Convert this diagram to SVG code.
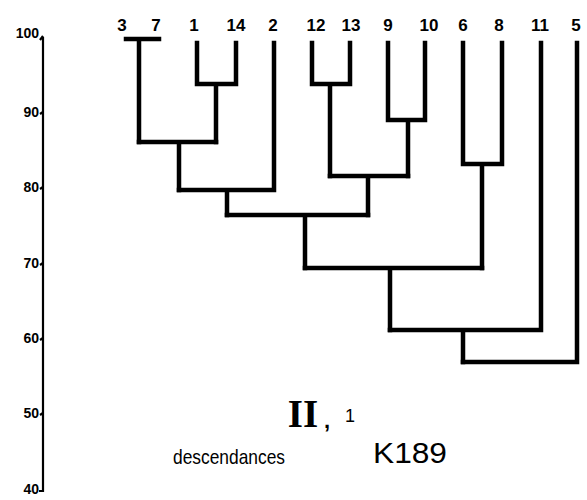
<svg xmlns="http://www.w3.org/2000/svg" width="587" height="500" viewBox="0 0 587 500">
<style>
.b{fill:none;stroke:#000;stroke-width:4.5;stroke-linecap:square;stroke-linejoin:miter}
.ax{fill:none;stroke:#000;stroke-width:2.2}
.lf{font-family:"Liberation Sans",Arial,sans-serif;font-size:17px;font-weight:bold;text-anchor:middle;fill:#000}
.tk{font-family:"Liberation Sans",Arial,sans-serif;font-size:14px;font-weight:bold;text-anchor:end;fill:#000}
.cap{font-family:"Liberation Sans",Arial,sans-serif;fill:#000}
.rom{font-family:"Liberation Serif","Times New Roman",serif;font-size:39px;font-weight:bold;fill:#000;text-anchor:middle}
</style>
<rect width="587" height="500" fill="#fff"/>
<g id="axis">
<path class="ax" d="M43,37 V491 H39"/>
<path class="ax" d="M40,40 L43,36 M40,114 L43,112 M40,189 L43,187 M40,265 L43,263 M40,340 L43,338 M40,415 L43,413"/>
<text class="tk" x="39" y="38">100</text>
<text class="tk" x="39" y="117">90</text>
<text class="tk" x="39" y="192">80</text>
<text class="tk" x="39" y="268">70</text>
<text class="tk" x="39" y="343">60</text>
<text class="tk" x="39" y="418">50</text>
<text class="tk" x="39" y="494">40</text>
</g>
<g id="leaf-labels">
<text class="lf" x="122" y="31">3</text>
<text class="lf" x="156" y="31">7</text>
<text class="lf" x="194" y="31">1</text>
<text class="lf" x="236" y="31">14</text>
<text class="lf" x="273" y="31">2</text>
<text class="lf" x="316" y="31">12</text>
<text class="lf" x="351" y="31">13</text>
<text class="lf" x="388" y="31">9</text>
<text class="lf" x="429" y="31">10</text>
<text class="lf" x="463" y="31">6</text>
<text class="lf" x="499" y="31">8</text>
<text class="lf" x="540" y="31">11</text>
<text class="lf" x="576" y="31">5</text>
</g>
<g id="connectors">
<path class="b" d="M126,39 H159 M139,39 V142"/>
<path class="b" d="M197,43 V84 H236 V43 M216,84 V142"/>
<path class="b" d="M139,142 H216 M179,142 V190"/>
<path class="b" d="M179,190 H274 V43 M227,190 V215"/>
<path class="b" d="M312,43 V84 H350 V43 M330,84 V176"/>
<path class="b" d="M388,43 V120 H425 V43 M408,120 V176"/>
<path class="b" d="M330,176 H408 M368,176 V215"/>
<path class="b" d="M227,215 H368 M305,215 V268"/>
<path class="b" d="M463,43 V164 H502 V43 M482,164 V268"/>
<path class="b" d="M305,268 H482 M390,268 V330"/>
<path class="b" d="M390,330 H541 V43 M463,330 V362"/>
<path class="b" d="M463,362 H577 V43"/>
</g>
<g id="caption">
<text class="rom" x="303" y="427">II</text>
<text class="cap" x="324" y="428" style="font-size:22px;font-weight:bold">,</text>
<text class="cap" x="345" y="422" style="font-size:18px">1</text>
<text class="cap" x="173" y="464" style="font-size:21px" textLength="112" lengthAdjust="spacingAndGlyphs">descendances</text>
<text class="cap" x="373" y="463" style="font-size:29px" textLength="74" lengthAdjust="spacingAndGlyphs">K189</text>
</g>
</svg>
